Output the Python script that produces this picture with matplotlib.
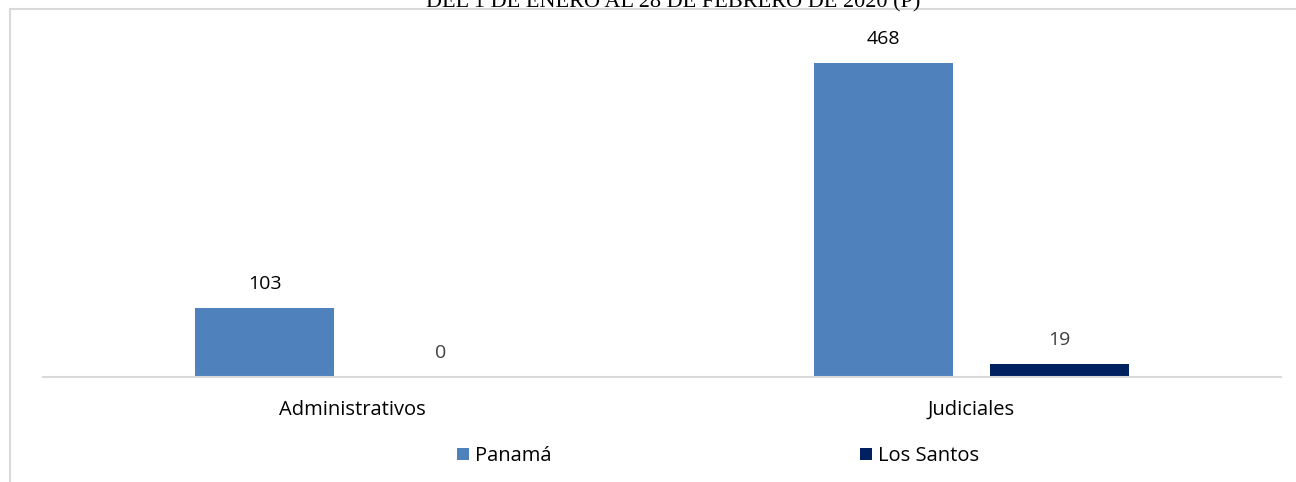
import matplotlib
matplotlib.use("Agg")
import matplotlib.pyplot as plt
from matplotlib.patches import Rectangle
import numpy as np

# data
categories = ["Administrativos", "Judiciales"]
series_names = ["Panamá", "Los Santos"]
panama = [103, 468]
los_santos = [0, 19]
title = "DEL 1 DE ENERO AL 28 DE FEBRERO DE 2020 (P)"

W, H = 1296, 482
fig = plt.figure(figsize=(W / 100, H / 100), dpi=100)
plt.rcParams["font.family"] = ["Open Sans", "DejaVu Sans"]

# outer chart frame (cropped at right / bottom)
fig.patches.append(Rectangle((10 / W, -0.1), 1.5, 1.1 - 9 / H, transform=fig.transFigure,
                             fill=False, edgecolor="#d9d9d9", linewidth=1.5))

fig.text(673 / W, 1 - 7 / H, title, ha="center", va="baseline",
         fontsize=16, family="Liberation Serif", color="black")

ax = fig.add_axes([43 / W, 1 - 377 / H, (1281 - 43) / W, (377 - 41.5) / H])
x = np.arange(len(categories))
bw = 0.2246
off = 0.142
b1 = ax.bar(x - off, panama, bw, color="#4f81bd", label=series_names[0])
b2 = ax.bar(x + off, los_santos, bw, color="#002060", label=series_names[1])

for rect, v in zip(b1, panama):
    ax.annotate(str(v), (rect.get_x() + rect.get_width() / 2, v), xytext=(0, 11),
                textcoords="offset points", ha="center", va="bottom", fontsize=14, color="black")
for rect, v in zip(b2, los_santos):
    ax.annotate(str(v), (rect.get_x() + rect.get_width() / 2, v), xytext=(0, 11),
                textcoords="offset points", ha="center", va="bottom", fontsize=14, color="#404040")

ax.set_xlim(-0.5, 1.5)
ax.set_ylim(0, 500)
ax.set_xticks(x)
ax.set_xticklabels(categories, fontsize=14.5)
ax.tick_params(axis="x", length=0, pad=16.5)
ax.set_yticks([])
for s in ["top", "right", "left"]:
    ax.spines[s].set_visible(False)
ax.spines["bottom"].set_color("#d9d9d9")
ax.spines["bottom"].set_linewidth(1.5)

fig.legend(handles=[b1, b2], labels=series_names, loc="center",
           bbox_to_anchor=(718 / W, 1 - 456 / H), ncol=2, frameon=False,
           fontsize=14.5, handlelength=0.6, handleheight=0.6, handletextpad=0.3,
           columnspacing=15.3)

fig.savefig("out.png", dpi=100)
